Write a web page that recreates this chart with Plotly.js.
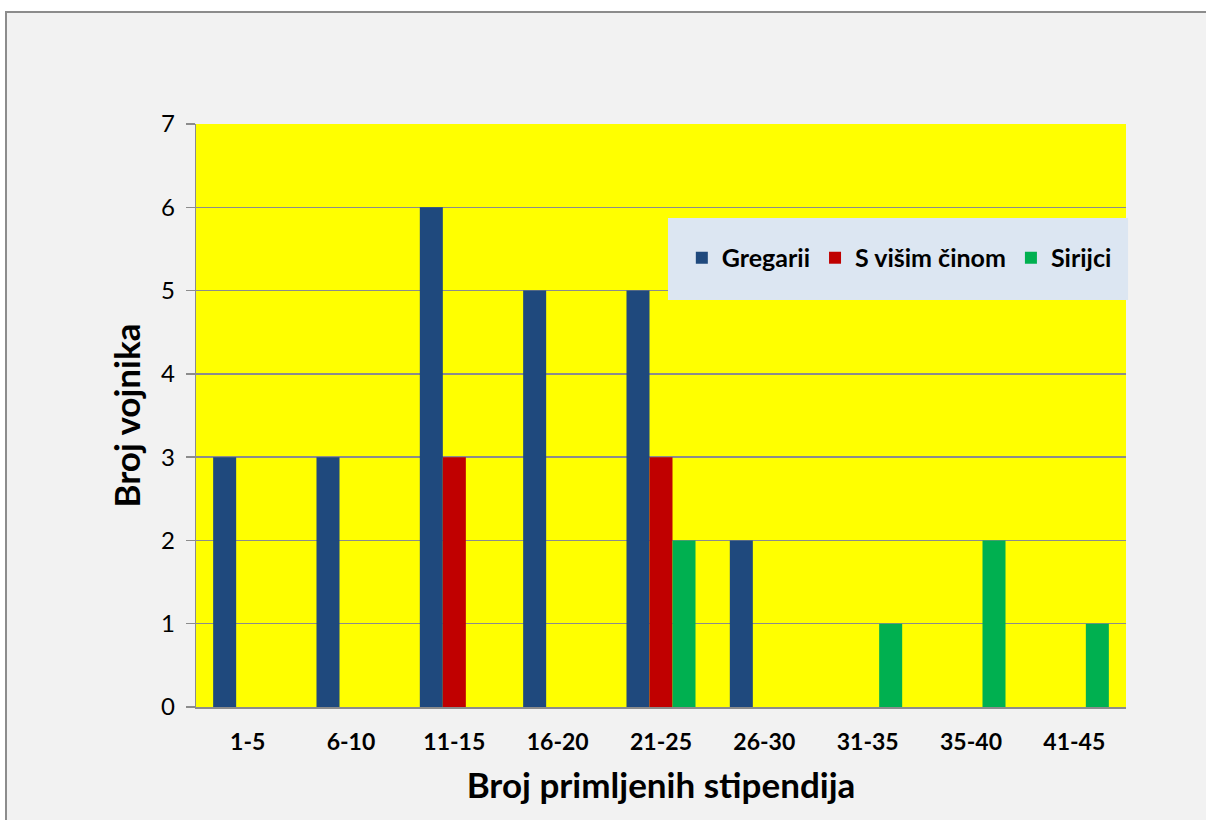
<!DOCTYPE html>
<html>
<head>
<meta charset="utf-8">
<script src="https://cdn.plot.ly/plotly-3.0.1.min.js"></script>
<style>
html,body{margin:0;padding:0;background:#ffffff;}
#chart{width:1206px;height:820px;}
</style>
</head>
<body>
<div id="chart"></div>
<script>
const categories = ['1-5','6-10','11-15','16-20','21-25','26-30','31-35','35-40','41-45'];
const gregarii = [3,3,6,5,5,2,0,0,0];
const visimCinom = [0,0,3,0,3,0,0,0,0];
const sirijci = [0,0,0,0,2,0,1,2,1];
const seriesNames = ['Gregarii','S višim činom','Sirijci'];
const seriesColors = ['#1f497d','#c00000','#00b050'];
const yTicks = [0,1,2,3,4,5,6,7];

const seriesValues = [gregarii, visimCinom, sirijci];
const traces = seriesValues.map((vals,i)=>({
  type:'bar',
  name: seriesNames[i],
  x: categories,
  y: vals,
  marker:{color: seriesColors[i], line:{width:0}},
  hoverinfo:'x+y+name'
}));

const FONT = 'Lato, "Open Sans", sans-serif';

const layout = {
  width:1206, height:820,
  margin:{l:196, r:80, t:124, b:113},
  paper_bgcolor:'#ffffff',
  plot_bgcolor:'rgba(0,0,0,0)',
  barmode:'group',
  bargap:0.332,
  bargroupgap:0,
  font:{family:FONT, color:'#000000'},
  xaxis:{
    type:'category',
    showgrid:false,
    showline:true, linecolor:'#8c8c8c', linewidth:2,
    ticks:'',
    tickfont:{family:FONT, size:23, weight:'bold', color:'#000'},
    ticklabelstandoff:13,
    title:{text:'Broj primljenih stipendija', font:{family:FONT, size:35, weight:'bold', color:'#000'}, standoff:20},
    zeroline:false, fixedrange:true
  },
  yaxis:{
    range:[0,7],
    tickvals: yTicks,
    showgrid:true, gridcolor:'#8c8c8c', gridwidth:1.4,
    showline:true, linecolor:'#8c8c8c', linewidth:1.4,
    ticks:'outside', ticklen:9, tickcolor:'#8c8c8c', tickwidth:1.4,
    tickfont:{family:FONT, size:24, color:'#000'},
    ticklabelstandoff:6,
    title:{text:'Broj vojnika', font:{family:FONT, size:35, weight:'bold', color:'#000'}, standoff:9},
    zeroline:false, fixedrange:true
  },
  showlegend:true,
  legend:{
    orientation:'h',
    x:0.5224, xanchor:'left',
    y:0.7702, yanchor:'middle',
    bgcolor:'rgba(0,0,0,0)',
    borderwidth:0,
    font:{family:FONT, size:25, weight:'bold', color:'#000'},
    traceorder:'normal'
  },
  shapes:[
    {type:'rect', xref:'paper', yref:'paper', layer:'below',
     x0:-0.2043, x1:1.095, y0:-0.21, y1:1.1921,
     fillcolor:'#f2f2f2', line:{color:'#8c8c8c', width:2}},
    {type:'rect', xref:'paper', yref:'paper', layer:'below',
     x0:0, x1:1, y0:0, y1:1,
     fillcolor:'#ffff00', line:{width:0}},
    {type:'rect', xref:'paper', yref:'paper', layer:'above',
     x0:0.5075, x1:1.0022, y0:0.6981, y1:0.8388,
     fillcolor:'#dce6f2', line:{width:0}}
  ]
};

Plotly.newPlot('chart', traces, layout, {displayModeBar:false, staticPlot:true});
</script>
</body>
</html>
